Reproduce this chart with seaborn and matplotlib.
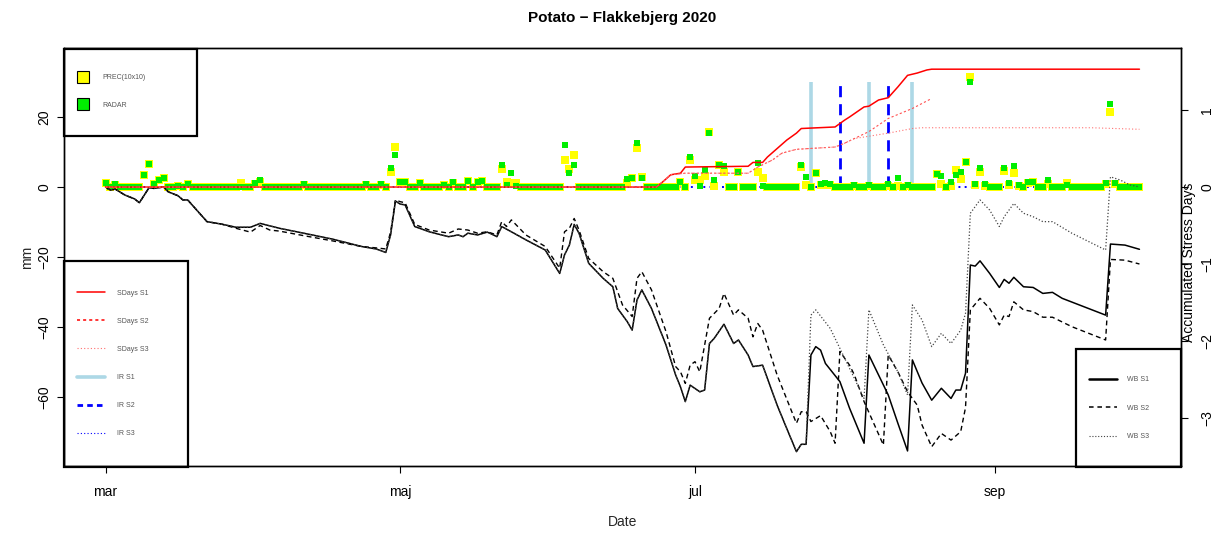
import numpy as np
import pandas as pd
import matplotlib
matplotlib.use("Agg")
import matplotlib.pyplot as plt
from matplotlib.lines import Line2D
from matplotlib.patches import Rectangle
import seaborn as sns

# -----------------------------------------------
# Data (dage regnet fra 1. marts 2020)
# -----------------------------------------------
START = pd.Timestamp("2020-03-01")
N_DAYS = 215  # 1 mar .. 1 okt

# nedbør pr. dag (mm), kun dage med regn - alle andre dage er 0
rain_day = [0, 2, 8, 9, 10, 11, 12, 15, 17, 28,
            31, 32, 41, 54, 57, 59, 60, 61, 62, 65,
            70, 72, 75, 77, 78, 82, 83, 84, 85, 95,
            96, 97, 108, 109, 110, 111, 119, 121, 122, 123,
            124, 125, 126, 127, 128, 131, 135, 136, 144, 145,
            147, 148, 149, 150, 155, 158, 162, 164, 166, 172,
            173, 175, 176, 177, 178, 179, 180, 181, 182, 186,
            187, 188, 189, 191, 192, 195, 199, 207, 208, 209]
prec_mm = [1.2, 0.5, 3.4, 6.6, 0.9, 2.0, 2.5, 0.3, 0.9, 1.2,
           0.8, 1.5, 0.6, 0.6, 0.6, 4.4, 11.3, 1.5, 1.5, 1.2,
           0.5, 1.2, 1.7, 1.3, 1.8, 5.1, 1.3, 1.2, 1.0, 7.7,
           5.0, 9.0, 1.0, 2.5, 11.2, 2.8, 1.5, 7.7, 2.0, 2.0,
           3.1, 15.8, 0.3, 6.3, 4.4, 4.2, 4.4, 2.5, 5.8, 0.5,
           4.1, 0.5, 0.6, 0.5, 0.4, 0.4, 0.3, 0.2, 0.3, 3.6,
           0.8, 0.3, 4.9, 2.2, 7.2, 31.5, 0.5, 4.4, 0.3, 4.6,
           0.5, 3.9, 0.3, 1.0, 1.5, 0.8, 1.2, 0.8, 21.5, 0.8]
radar_mm = [1.2, 0.9, 3.4, 6.6, 0.9, 2.0, 2.5, 0.3, 0.9, 0.0,
            1.2, 2.0, 0.9, 0.9, 0.9, 5.5, 9.1, 1.5, 1.5, 1.2,
            0.5, 1.3, 1.7, 1.3, 1.8, 6.3, 0.6, 3.9, 0.4, 12.0,
            3.9, 6.3, 2.2, 2.5, 12.7, 2.5, 1.3, 8.5, 3.1, 0.3,
            4.9, 15.5, 2.0, 6.3, 6.0, 4.2, 6.8, 0.3, 6.3, 2.8,
            4.1, 0.8, 1.0, 0.9, 0.6, 0.5, 0.8, 2.5, 0.5, 3.6,
            3.0, 1.5, 3.4, 4.4, 7.2, 30.1, 0.9, 5.3, 0.9, 5.3,
            1.0, 6.0, 0.6, 1.5, 1.5, 2.0, 0.5, 1.2, 23.7, 1.0]

# vanding (mm)
ir1_day = [146, 158, 167]
ir1_mm = [30, 30, 30]
ir2_day = [152, 162]
ir2_mm = [30, 30]
ir3_day = [0, 214]
ir3_mm = [0, 0]

# vandbalance (mm) - knækpunkter aflæst
wb1_day = [0, 1, 2, 4, 6, 7, 9, 10, 12, 13,
           15, 16, 17, 21, 24, 27, 30, 32, 36, 41,
           47, 53, 56, 58, 59, 60, 61, 62, 64, 67,
           71, 73, 74, 75, 77, 79, 80, 81, 82, 84,
           87, 91, 94, 95, 96, 97, 98, 100, 103, 105,
           106, 108, 109, 110, 111, 113, 116, 118, 119, 120,
           121, 123, 124, 125, 126, 128, 130, 131, 133, 134,
           136, 139, 141, 143, 144, 145, 146, 147, 148, 149,
           152, 154, 157, 158, 160, 162, 164, 166, 167, 169,
           171, 173, 175, 176, 177, 178, 179, 180, 181, 183,
           185, 186, 187, 188, 190, 192, 194, 196, 198, 207,
           208, 211, 214]
wb1_mm = [0, -0.9, -0.6, -2.3, -3.4, -4.5, -0.2, -0.4, 0, -1.4,
          -2.5, -3.7, -3.7, -9.9, -10.6, -11.5, -11.5, -10.4, -11.8, -13.2,
          -14.9, -17, -17.7, -18.7, -13.7, -4, -4.9, -5.1, -11.3, -12.8,
          -14.2, -13.7, -14.2, -13.2, -13.7, -12.9, -13.5, -14.2, -11.3, -12.8,
          -15.1, -18, -24.7, -19.4, -16.6, -10.7, -13.2, -21.8, -26.1, -28.5,
          -34.7, -38.5, -40.9, -32.3, -29.4, -34.7, -45.1, -53.7, -57.1, -61.3,
          -56.6, -58.5, -58, -44.7, -43.2, -39.2, -44.7, -43.7, -48, -51.3,
          -50.9, -62.3, -69, -75.6, -73.5, -73.5, -48, -45.6, -46.6, -50.4,
          -55.6, -63.2, -73.2, -48, -53.7, -59.4, -67.5, -75.4, -49.4, -56,
          -60.9, -57.5, -60.4, -58, -58, -53.2, -22.3, -22.6, -21.1, -24.7,
          -28.7, -26.4, -27.5, -25.8, -28.5, -28.7, -30.4, -30.1, -31.8, -36.6,
          -16.3, -16.6, -17.8]

wb2_day = [0, 1, 2, 4, 6, 7, 9, 10, 12, 13,
           15, 16, 17, 21, 24, 27, 30, 32, 34, 36,
           41, 47, 53, 56, 58, 59, 60, 61, 62, 64,
           67, 71, 73, 75, 77, 79, 81, 82, 83, 84,
           87, 91, 94, 95, 96, 97, 98, 100, 103, 105,
           107, 109, 110, 111, 113, 116, 118, 119, 120, 121,
           122, 123, 125, 127, 128, 130, 131, 133, 134, 135,
           136, 139, 143, 144, 145, 146, 148, 150, 151, 152,
           154, 155, 157, 159, 161, 162, 164, 166, 168, 169,
           171, 173, 175, 177, 178, 179, 181, 183, 185, 186,
           187, 188, 190, 192, 194, 196, 200, 207, 208, 211,
           214]
wb2_mm = [0, -0.9, -0.6, -2.3, -3.4, -4.5, -0.2, -0.4, 0, -1.4,
          -2.5, -3.7, -3.7, -9.9, -10.6, -11.8, -12.9, -11, -12.3, -12.6,
          -13.9, -15.4, -17, -17.4, -17.7, -12.9, -3.7, -4.2, -4.5, -10.7,
          -12.3, -13.2, -12, -12.3, -13.2, -12.8, -13.7, -9.9, -11.3, -9.4,
          -13.7, -17, -23.2, -12.8, -11.8, -9, -12.3, -20.4, -24.2, -26.1,
          -33.7, -37, -26.1, -24.2, -29.4, -41.3, -51.3, -52.8, -56.1, -50.9,
          -49.9, -52.8, -37.5, -34.7, -30.4, -36.6, -35.1, -37.5, -42.8, -39,
          -40.9, -53.7, -67.5, -64.2, -64.2, -67, -65.3, -69.9, -73.2, -47,
          -50.9, -53.7, -61.3, -67.5, -73.7, -48, -52.8, -58.5, -62.3, -68,
          -74.2, -70.4, -72.3, -69.9, -63, -35.1, -31.8, -34.7, -39.4, -36.6,
          -37, -32.8, -35.1, -35.6, -37.2, -37.2, -39.9, -43.7, -20.7, -20.9,
          -22]

# S3 følger S1 indtil første vanding (dag 145)
wb3_split = 76
wb3_day = wb1_day[:wb3_split] + [146, 147, 150, 152, 155, 157, 158, 161, 164, 166,
                                 167, 169, 171, 173, 175, 177, 178, 179, 181, 183,
                                 185, 186, 188, 190, 192, 194, 196, 200, 207, 208,
                                 210, 212, 214]
wb3_mm = wb1_mm[:wb3_split] + [-36.6, -35.1, -40.4, -46.1, -54.7, -60.4, -35.1, -45.1, -52.8, -59.4,
                               -33.7, -38, -45.6, -41.8, -44.7, -40.9, -36.1, -7.5, -3.7, -6.6,
                               -11.3, -8.5, -4.7, -7.5, -8.5, -9.9, -9.9, -13.2, -18, 2.9,
                               2.0, 0.6, 0]

# akkumulerede stressdage (højre akse)
sd1_day = [0, 114, 115, 117, 119, 120, 133, 134, 136, 137, 139, 141, 143, 144,
           151, 153, 154, 157, 158, 160, 162, 164, 166, 168, 170, 171, 214]
sd1 = [0, 0, 0.05, 0.16, 0.18, 0.26, 0.27, 0.32, 0.32, 0.39, 0.50, 0.61, 0.70, 0.76,
       0.78, 0.87, 0.91, 1.04, 1.05, 1.13, 1.16, 1.30, 1.45, 1.48, 1.52, 1.53, 1.53]
sd2_day = [0, 114, 117, 120, 133, 135, 138, 140, 143, 151, 153, 155, 158, 162, 167, 171]
sd2 = [0, 0, 0.16, 0.18, 0.18, 0.26, 0.35, 0.44, 0.49, 0.52, 0.57, 0.63, 0.72, 0.89, 1.02, 1.15]
sd3_day = [0, 114, 117, 120, 133, 135, 138, 140, 143, 151, 153, 155, 158, 162, 167, 169, 204, 214]
sd3 = [0, 0, 0.16, 0.18, 0.18, 0.26, 0.35, 0.44, 0.49, 0.52, 0.57, 0.63, 0.66, 0.70, 0.76, 0.77, 0.77, 0.75]


def to_date(days):
    return START + pd.to_timedelta(np.asarray(days), unit="D")


# daglig tabel til punkterne
daily = pd.DataFrame({"date": to_date(np.arange(N_DAYS)), "prec": 0.0, "radar": 0.0})
daily.loc[rain_day, "prec"] = prec_mm
daily.loc[rain_day, "radar"] = radar_mm

# -----------------------------------------------
# Figur
# -----------------------------------------------
sns.set_style("ticks")
plt.rcParams["font.family"] = ["Liberation Sans", "DejaVu Sans"]
plt.rcParams["axes.edgecolor"] = "black"
plt.rcParams["xtick.color"] = "black"
plt.rcParams["ytick.color"] = "black"
plt.rcParams["text.color"] = "black"

W, H = 1216, 535
fig = plt.figure(figsize=(W / 100, H / 100), dpi=100)
ax = fig.add_axes([64 / W, 1 - 466 / H, (1181 - 64) / W, (466 - 48) / H])

GREEN = "#00ee00"

# punkter
sns.scatterplot(data=daily, x="date", y="prec", marker="s", s=34, color="yellow",
                linewidth=0, ax=ax, zorder=3)
sns.scatterplot(data=daily, x="date", y="radar", marker="s", s=13, color=GREEN,
                linewidth=0, ax=ax, zorder=3)

# vanding
ax.vlines(to_date(ir1_day), 0, ir1_mm, color="lightblue", lw=2.6, zorder=2)
ax.vlines(to_date(ir2_day), 0, ir2_mm, color="blue", lw=2.0, linestyles=(0, (4, 2.5)), zorder=2)
sns.lineplot(x=to_date(ir3_day), y=ir3_mm, color="blue", lw=1.4, linestyle=(0, (1, 2.2)),
             ax=ax, zorder=2.5, errorbar=None)

# vandbalance
sns.lineplot(x=to_date(wb1_day), y=wb1_mm, color="black", lw=1.1, ax=ax, zorder=4, errorbar=None)
sns.lineplot(x=to_date(wb2_day), y=wb2_mm, color="black", lw=1.0, linestyle=(0, (3.5, 2.5)),
             ax=ax, zorder=4, errorbar=None)
sns.lineplot(x=to_date(wb3_day), y=wb3_mm, color="#444444", lw=0.9, linestyle=(0, (1, 1.6)),
             ax=ax, zorder=4, errorbar=None)

ax.set_xlim(START - pd.Timedelta(days=8.6), to_date([214])[0] + pd.Timedelta(days=8.6))
ax.set_ylim(-79.7, 39.7)
ax.set_xticks(pd.to_datetime(["2020-03-01", "2020-05-01", "2020-07-01", "2020-09-01"]),
              ["mar", "maj", "jul", "sep"])
ax.set_yticks([-60, -40, -20, 0, 20])
ax.tick_params(axis="both", direction="out", length=5, width=0.8, labelsize=10)
ax.tick_params(axis="x", pad=9)
ax.tick_params(axis="y", pad=4)
plt.setp(ax.get_yticklabels(), rotation=90, va="center")
ax.set_xlabel("Date", fontsize=10)
ax.xaxis.set_label_coords(0.5, -0.118)
ax.set_ylabel("mm", fontsize=10)
ax.yaxis.set_label_coords(-0.027, 0.5)
ax.set_title("Potato \u2212 Flakkebjerg 2020", fontsize=11, fontweight="bold", pad=19)

# stressdage på højre akse
ax2 = ax.twinx()
sns.lineplot(x=to_date(sd1_day), y=sd1, color="red", lw=1.1, ax=ax2, errorbar=None)
sns.lineplot(x=to_date(sd2_day), y=sd2, color="#ff5050", lw=0.8, linestyle=(0, (2, 2)),
             ax=ax2, errorbar=None)
sns.lineplot(x=to_date(sd3_day), y=sd3, color="#ff6f6f", lw=0.8, linestyle=(0, (1, 2)),
             ax=ax2, errorbar=None)
ax2.set_ylim(-3.62, 1.805)
ax2.set_yticks([-3, -2, -1, 0, 1])
ax2.set_ylabel("")
ax2.tick_params(axis="y", direction="out", length=5, width=0.8, labelsize=10, pad=9)
plt.setp(ax2.get_yticklabels(), rotation=90, va="center")
for a in (ax, ax2):
    for sp in a.spines.values():
        sp.set_visible(True)
        sp.set_linewidth(1.0)
        sp.set_color("black")
fig.text(1189 / W, 1 - 262 / H, "Accumulated Stress Days", rotation=90,
         ha="center", va="center", fontsize=10)

# -----------------------------------------------
# Legender
# -----------------------------------------------
leg_kw = dict(loc="center left", frameon=False, fontsize=5, borderpad=0,
              borderaxespad=0, labelcolor="#555555", bbox_transform=fig.transFigure)

h1 = [Line2D([], [], ls="none", marker="s", ms=9, mfc="yellow", mec="black", mew=0.8),
      Line2D([], [], ls="none", marker="s", ms=9, mfc=GREEN, mec="black", mew=0.8)]
fig.legend(h1, ["PREC(10x10)", "RADAR"], bbox_to_anchor=(78 / W, 1 - 91.5 / H),
           handlelength=1.5, handletextpad=2.0, labelspacing=3.0, **leg_kw)

h2 = [Line2D([], [], color="red", lw=1.1),
      Line2D([], [], color="red", lw=1.1, ls=(0, (2, 2))),
      Line2D([], [], color="#ff6f6f", lw=0.8, ls=(0, (1, 2))),
      Line2D([], [], color="lightblue", lw=2.6),
      Line2D([], [], color="blue", lw=2.0, ls=(0, (2, 1.5))),
      Line2D([], [], color="blue", lw=0.8, ls=(0, (1, 2)))]
fig.legend(h2, ["SDays S1", "SDays S2", "SDays S3", "IR S1", "IR S2", "IR S3"],
           bbox_to_anchor=(77 / W, 1 - 363.5 / H),
           handlelength=4, handletextpad=1.7, labelspacing=3.05, **leg_kw)

h3 = [Line2D([], [], color="black", lw=1.8),
      Line2D([], [], color="black", lw=1.1, ls=(0, (3, 2.5))),
      Line2D([], [], color="#444444", lw=0.8, ls=(0, (1, 1.6)))]
fig.legend(h3, ["WB S1", "WB S2", "WB S3"], bbox_to_anchor=(1089 / W, 1 - 408 / H),
           handlelength=4, handletextpad=1.5, labelspacing=3.1, **leg_kw)

for x0, y0, x1, y1 in [(64, 49, 197, 136), (64, 261, 188, 467), (1076, 349, 1181, 467)]:
    fig.add_artist(Rectangle((x0 / W, 1 - y1 / H), (x1 - x0) / W, (y1 - y0) / H,
                             transform=fig.transFigure, fill=False, ec="black", lw=1.6))

fig.savefig("out.png", dpi=100)
